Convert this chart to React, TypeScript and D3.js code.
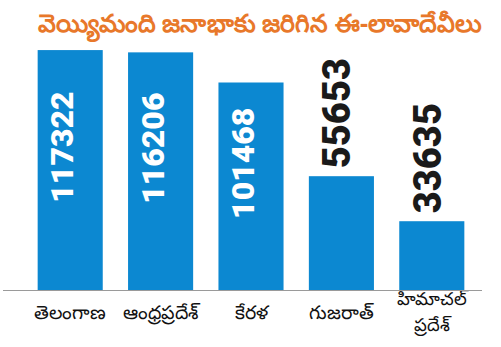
import React from "react";
import * as d3 from "d3";

const title = "వెయ్యిమంది జనాభాకు జరిగిన ఈ-లావాదేవీలు";
const categories = ["తెలంగాణ", "ఆంధ్రప్రదేశ్", "కేరళ", "గుజరాత్", "హిమాచల్ ప్రదేశ్"];
const categoryLines = [["తెలంగాణ"], ["ఆంధ్రప్రదేశ్"], ["కేరళ"], ["గుజరాత్"], ["హిమాచల్", "ప్రదేశ్"]];
const values = [117322, 116206, 101468, 55653, 33635];
const labelInside = [true, true, true, false, false];

const W = 501;
const H = 347;
const BAR = "#0c88d1";
const ORANGE = "#e8782a";

export default function App() {
  const x = d3.scaleBand<string>().domain(categories).range([25, 477]).paddingInner(0.28).paddingOuter(0.14);
  const y = d3.scaleLinear().domain([0, 120000]).range([290, 44.6]);
  const font = "Roboto, 'Noto Sans', sans-serif";
  return (
    <svg width={W} height={H} style={{ position: "absolute", left: 0, top: 0, background: "#fff" }}>
      <text x={260} y={32} textAnchor="middle" fontSize={25} fontWeight={700} fill={ORANGE} fontFamily="'Noto Sans', sans-serif" textLength={445} lengthAdjust="spacingAndGlyphs">
        {title}
      </text>
      {categories.map((c, i) => {
        const bx = x(c)!;
        const bw = x.bandwidth();
        const top = y(values[i]);
        const cx = bx + bw / 2;
        return (
          <g key={c}>
            <rect x={bx} y={top} width={bw} height={y(0) - top} fill={BAR} />
            {labelInside[i] ? (
              <text
                transform={`translate(${cx + 3},${(top + y(0)) / 2 - 23}) rotate(-90)`}
                textAnchor="middle"
                fontSize={32}
                fontWeight={900}
                fill="#fff"
                fontFamily={font}
              >
                {values[i]}
              </text>
            ) : (
              <text
                transform={`translate(${cx + 9},${top - 8}) rotate(-90)`}
                textAnchor="start"
                fontSize={38}
                fontWeight={900}
                fill="#1a1a1a"
                fontFamily={font}
              >
                {values[i]}
              </text>
            )}
            {categoryLines[i].map((line, j) => (
              <text
                key={j}
                x={cx}
                y={categoryLines[i].length === 1 ? 319 : 305 + j * 26}
                textAnchor="middle"
                fontSize={categoryLines[i].length === 1 ? 19 : 18}
                fontWeight={500}
                fill="#111"
                fontFamily="'Noto Sans', sans-serif"
              >
                {line}
              </text>
            ))}
          </g>
        );
      })}
      <line x1={3} x2={482} y1={290.5} y2={290.5} stroke="#9a9a9a" strokeWidth={1} />
    </svg>
  );
}
